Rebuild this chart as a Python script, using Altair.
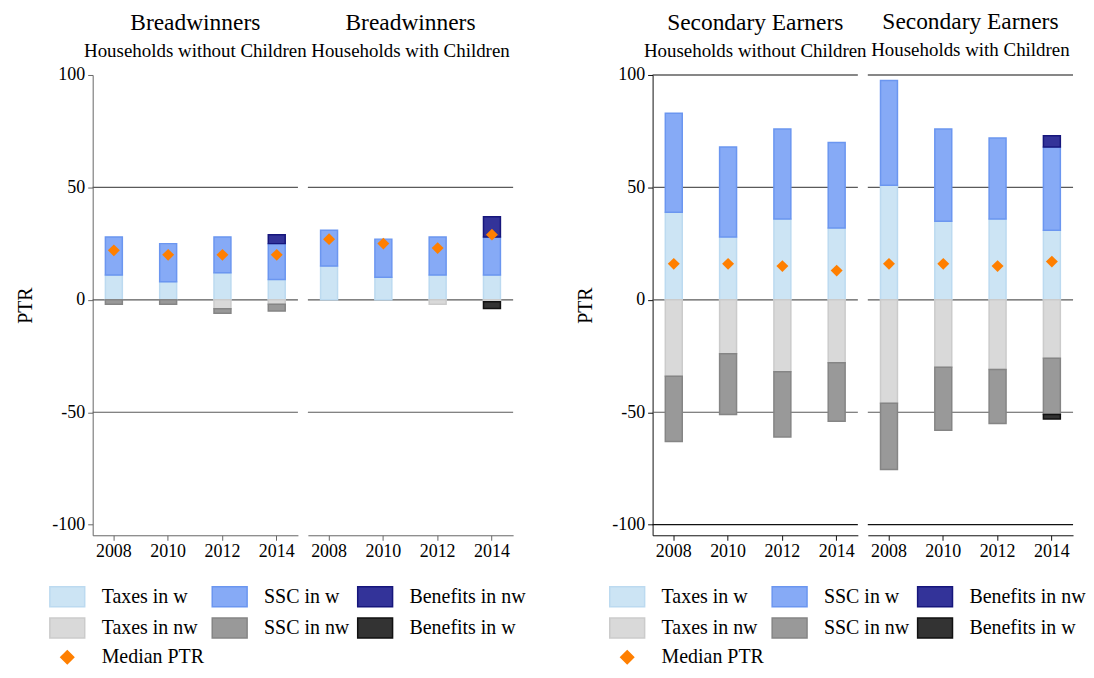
import altair as alt
import pandas as pd

YEARS = ["2008", "2010", "2012", "2014"]
COMPONENTS = ["Taxes in w", "SSC in w", "Benefits in nw",
              "Taxes in nw", "SSC in nw", "Benefits in w"]
STACK_ORDER = [1, 2, 3, 1, 2, 3]
MEDIAN_LABEL = "Median PTR"
LEGEND_DOMAIN = COMPONENTS + [MEDIAN_LABEL]

PANEL_IDS = ["bw_nc", "bw_c", "se_nc", "se_c"]
PANEL_TITLES = ["Breadwinners", "Breadwinners", "Secondary Earners", "Secondary Earners"]
PANEL_SUBTITLES = ["Households without Children", "Households with Children",
                   "Households without Children", "Households with Children"]

# Breadwinners, households without children
bw_nc_taxes_w = [11, 8, 12, 9]
bw_nc_ssc_w = [17, 17, 16, 16]
bw_nc_ben_nw = [0, 0, 0, 4]
bw_nc_taxes_nw = [0, 0, -4, -2]
bw_nc_ssc_nw = [-2, -2, -2, -3]
bw_nc_ben_w = [0, 0, 0, 0]
bw_nc_median = [22, 20, 20, 20]

# Breadwinners, households with children
bw_c_taxes_w = [15, 10, 11, 11]
bw_c_ssc_w = [16, 17, 17, 17]
bw_c_ben_nw = [0, 0, 0, 9]
bw_c_taxes_nw = [0, 0, -2, -0.8]
bw_c_ssc_nw = [0, 0, 0, 0]
bw_c_ben_w = [0, 0, 0, -3]
bw_c_median = [27, 25, 23, 29]

# Secondary earners, households without children
se_nc_taxes_w = [39, 28, 36, 32]
se_nc_ssc_w = [44, 40, 40, 38]
se_nc_ben_nw = [0, 0, 0, 0]
se_nc_taxes_nw = [-34, -24, -32, -28]
se_nc_ssc_nw = [-29, -27, -29, -26]
se_nc_ben_w = [0, 0, 0, 0]
se_nc_median = [16, 16, 15, 13]

# Secondary earners, households with children
se_c_taxes_w = [51, 35, 36, 31]
se_c_ssc_w = [46.5, 41, 36, 37]
se_c_ben_nw = [0, 0, 0, 5]
se_c_taxes_nw = [-46, -30, -31, -26]
se_c_ssc_nw = [-29.5, -28, -24, -25]
se_c_ben_w = [0, 0, 0, -2]
se_c_median = [16, 16, 15, 17]

GRID_MINOR = [-50, 0, 50]
GRID_MAJOR_RIGHT = [-100, 100]
Y_TICKS = [-100, -50, 0, 50, 100]

FILL_COLORS = ["#cce4f4", "#86aaf6", "#333399", "#d9d9d9", "#999999", "#333333", "#ff7f00"]
STROKE_COLORS = ["#bcdaf0", "#6b96f0", "#16167c", "#cbcbcb", "#858585", "#111111", "#ff7f00"]
RECT_PATH = "M-1.667,-0.952L1.667,-0.952L1.667,0.952L-1.667,0.952Z"
DIAMOND_PATH = "M0,-0.62L0.62,0L0,0.62L-0.62,0Z"

panel_series = {
    "bw_nc": [bw_nc_taxes_w, bw_nc_ssc_w, bw_nc_ben_nw, bw_nc_taxes_nw, bw_nc_ssc_nw, bw_nc_ben_w],
    "bw_c": [bw_c_taxes_w, bw_c_ssc_w, bw_c_ben_nw, bw_c_taxes_nw, bw_c_ssc_nw, bw_c_ben_w],
    "se_nc": [se_nc_taxes_w, se_nc_ssc_w, se_nc_ben_nw, se_nc_taxes_nw, se_nc_ssc_nw, se_nc_ben_w],
    "se_c": [se_c_taxes_w, se_c_ssc_w, se_c_ben_nw, se_c_taxes_nw, se_c_ssc_nw, se_c_ben_w],
}
panel_median = {"bw_nc": bw_nc_median, "bw_c": bw_c_median,
                "se_nc": se_nc_median, "se_c": se_c_median}

bar_rows = []
for pid, series in panel_series.items():
    for comp, order, vals in zip(COMPONENTS, STACK_ORDER, series):
        for yr, v in zip(YEARS, vals):
            if v != 0:
                bar_rows.append({"panel": pid, "year": yr, "component": comp,
                                 "ord": order, "value": v})
bars_df = pd.DataFrame(bar_rows)

med_rows = []
for pid, vals in panel_median.items():
    for yr, v in zip(YEARS, vals):
        med_rows.append({"panel": pid, "year": yr, "component": MEDIAN_LABEL, "value": v})
med_df = pd.DataFrame(med_rows)

FONT = "Liberation Serif"
W, H = 206, 462
Y_DOMAIN = [-104.7, 100]


def make_legend():
    return alt.Legend(
        title=None, orient="none", legendX=-37, legendY=512, columns=3,
        direction="horizontal",
        symbolSize=441, symbolStrokeWidth=1.5, labelFont=FONT, labelFontSize=20,
        labelColor="black", labelOffset=23, columnPadding=4, rowPadding=4.5,
        labelLimit=300,
    )


def panel(idx, right_group):
    pid = PANEL_IDS[idx]
    show_y = idx in (0, 2)
    axis_col = "#111111" if right_group else "#666666"
    yscale = alt.Scale(domain=Y_DOMAIN, nice=False, zero=False)
    xscale = alt.Scale(paddingInner=0.688, paddingOuter=0.234)
    if show_y:
        yaxis = alt.Axis(values=Y_TICKS, grid=False, tickSize=5, domainColor=axis_col,
                         tickColor=axis_col, labelFont=FONT, labelFontSize=18,
                         labelColor="black", labelPadding=3, titleFont=FONT,
                         titleFontSize=20, titleFontWeight="normal", titleColor="black",
                         titlePadding=16,
                         labelExpr="replace(datum.label, '\u2212', '-')")
    else:
        yaxis = None
    xaxis = alt.Axis(labelAngle=0, tickSize=5, domainColor=axis_col, tickColor=axis_col,
                     labelFont=FONT, labelFontSize=18, labelColor="black", labelPadding=2,
                     title=None)

    x_enc = alt.X("year:N", scale=xscale, axis=xaxis, title=None, sort=YEARS)
    fill_scale = alt.Scale(domain=LEGEND_DOMAIN, range=FILL_COLORS)
    stroke_scale = alt.Scale(domain=LEGEND_DOMAIN, range=STROKE_COLORS)
    shape_scale = alt.Scale(domain=LEGEND_DOMAIN, range=[RECT_PATH] * 6 + [DIAMOND_PATH])

    grid_minor = alt.Chart(pd.DataFrame({"g": GRID_MINOR})).mark_rule(
        color="#5a5a5a", strokeWidth=1.2).encode(
        y=alt.Y("g:Q", scale=yscale, axis=yaxis, title="PTR"))
    layers = [grid_minor]
    if right_group:
        grid_major = alt.Chart(pd.DataFrame({"g": GRID_MAJOR_RIGHT})).mark_rule(
            color="#111111", strokeWidth=1.2).encode(
            y=alt.Y("g:Q", scale=yscale, axis=yaxis, title="PTR"))
        layers.append(grid_major)

    bars = alt.Chart(bars_df).transform_filter(
        alt.datum.panel == pid).mark_bar(strokeWidth=1.5, opacity=1).encode(
        x=x_enc,
        y=alt.Y("value:Q", stack="zero", scale=yscale, axis=yaxis, title="PTR"),
        fill=alt.Fill("component:N", scale=fill_scale, legend=make_legend()),
        stroke=alt.Stroke("component:N", scale=stroke_scale, legend=make_legend()),
        order=alt.Order("ord:Q", sort="ascending"),
    )
    pts = alt.Chart(med_df).transform_filter(
        alt.datum.panel == pid).mark_point(filled=True, size=375, opacity=1, strokeWidth=0).encode(
        x=x_enc,
        y=alt.Y("value:Q", scale=yscale, axis=yaxis, title="PTR"),
        fill=alt.Fill("component:N", scale=fill_scale, legend=make_legend()),
        stroke=alt.Stroke("component:N", scale=stroke_scale, legend=make_legend()),
        shape=alt.Shape("component:N", scale=shape_scale, legend=make_legend()),
    )
    layers += [bars, pts]
    return alt.layer(*layers).properties(
        width=W, height=H,
        title=alt.TitleParams(text=PANEL_TITLES[idx], subtitle=PANEL_SUBTITLES[idx],
                              font=FONT, fontSize=23.5, fontWeight="normal", color="black",
                              subtitleFont=FONT, subtitleFontSize=19, subtitleColor="black",
                              subtitlePadding=8, offset=5 if show_y else 14,
                              anchor="middle", frame="group"),
    )


left = alt.hconcat(panel(0, False), panel(1, False), spacing=10, bounds="flush")
right = alt.hconcat(panel(2, True), panel(3, True), spacing=10, bounds="flush")

chart = alt.hconcat(left, right, spacing=50).resolve_scale(
    fill="independent", stroke="independent", shape="independent"
).properties(
    padding={"left": 8, "top": 0, "right": 0, "bottom": 0}
).configure_view(stroke=None)

chart.save("out.html", embed_options={"renderer": "svg", "actions": False})
